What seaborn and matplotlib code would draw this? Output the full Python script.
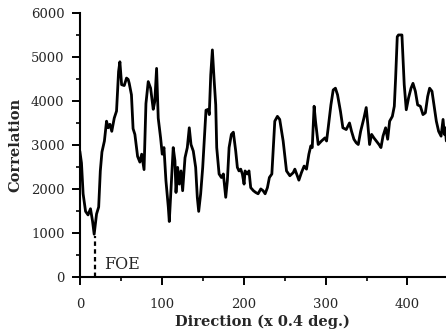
import numpy as np
import pandas as pd
import matplotlib
matplotlib.use('Agg')
import matplotlib.pyplot as plt
from matplotlib.ticker import MultipleLocator
import seaborn as sns

# values
direction = [0, 2, 4, 7, 10, 13, 15.5, 17.5, 20.4, 23, 25, 27, 30, 32.6, 34.6, 36.7, 39, 42, 44.8,
             47.3, 48.9, 51, 54.2, 57, 59, 60.3, 63, 65, 67.2, 70.5, 73.3, 75.5, 78.4, 80.7, 83.5,
             86.4, 89.6, 91.5, 93.7, 95.7, 98.6, 100.6, 102.7, 105.1, 108, 109.2, 111.2, 114, 116.1,
             117.4, 119.4, 121.4, 123.5, 125.5, 128.4, 131.2, 133.6, 135.7, 138.5, 141.4, 143.4,
             145.1, 147.5, 150, 152, 154, 156.8, 158, 159.8, 161.8, 163.8, 165.9, 167.1, 170, 172.8,
             175.2, 178.1, 180.1, 182.2, 185, 187.4, 190.3, 192.3, 194.3, 196.4, 198.4, 200.5, 201.7,
             204.5, 206.5, 208.6, 211.9, 214.7, 217.6, 220.9, 223.7, 226.2, 229, 231.4, 234.4, 238,
             241.2, 244, 248.2, 252.3, 256.4, 260.5, 262.5, 267.4, 270.5, 273.8, 276.7, 279.6, 282,
             283.7, 286, 287.7, 291, 295, 299.2, 301.2, 303.2, 306.5, 309.3, 312, 314.6, 318.2, 321.1,
             325.2, 329.2, 331.7, 334.6, 337.4, 339.9, 342.8, 346.8, 349.6, 351.6, 353.7, 356.2, 359,
             361.9, 365.2, 367.6, 370.1, 373.3, 375.8, 378.2, 381.5, 383.9, 385.5, 387.5, 389, 393.2,
             396, 398.5, 401.3, 404.3, 406.7, 409.6, 412.4, 415.7, 418.9, 421.8, 424.6, 427, 429.9,
             432.8, 435.2, 438, 441, 443.4, 445, 446, 447.4]
correlation = [2870, 2600, 1900, 1500, 1420, 1560, 1280, 980, 1440, 1600, 2420, 2850, 3100, 3550, 3400,
               3480, 3320, 3620, 3780, 4680, 4900, 4380, 4360, 4530, 4500, 4410, 4150, 3380, 3250, 2750,
               2620, 2800, 2450, 3950, 4450, 4300, 3820, 4000, 4750, 3620, 3170, 2800, 2950, 2200, 1600,
               1270, 1970, 2950, 2650, 1930, 2500, 2120, 2420, 1970, 2720, 2950, 3400, 3020, 2870, 2500,
               1820, 1500, 1900, 2500, 3170, 3800, 3820, 3700, 4600, 5170, 4530, 3920, 2950, 2350, 2270,
               2350, 1820, 2200, 2950, 3250, 3300, 2870, 2500, 2420, 2460, 2350, 2120, 2420, 2350, 2420,
               2040, 1970, 1930, 1900, 2010, 1970, 1900, 2040, 2270, 2350, 3550, 3660, 3590, 3100, 2420,
               2310, 2380, 2460, 2210, 2380, 2530, 2460, 2800, 2990, 2950, 3890, 3550, 3020, 3100, 3170,
               3100, 3400, 3920, 4260, 4300, 4150, 3770, 3400, 3360, 3510, 3320, 3140, 3060, 3020, 3320,
               3620, 3860, 3470, 3020, 3250, 3170, 3100, 3020, 2950, 3210, 3400, 3140, 3550, 3660, 3890,
               4530, 5470, 5510, 5510, 4380, 3810, 4080, 4300, 4410, 4230, 3920, 3890, 3700, 3740, 4110,
               4300, 4230, 3850, 3550, 3320, 3210, 3590, 3250, 3400, 3100]

foe_x = 18.3
foe_top = 950

df = pd.DataFrame({'direction': direction, 'correlation': correlation})

sns.set_style('ticks')
plt.rcParams['font.family'] = ['DejaVu Serif']

fig = plt.figure(figsize=(4.46, 3.35), dpi=100)
ax = fig.add_axes([0.179, 0.172, 0.821, 0.788])

sns.lineplot(data=df, x='direction', y='correlation', color='black', linewidth=2.0, ax=ax)

# focus of expansion marker
ax.plot([foe_x, foe_x], [0, foe_top], color='black', linestyle=(0, (2, 1.5)), linewidth=1.6)
ax.text(30, 300, 'FOE', fontsize=11.5, ha='left', va='center')

ax.set_xlim(0, 447)
ax.set_ylim(0, 6000)
ax.set_xticks([0, 100, 200, 300, 400])
ax.set_yticks([0, 1000, 2000, 3000, 4000, 5000, 6000])
ax.xaxis.set_minor_locator(MultipleLocator(50))
ax.yaxis.set_minor_locator(MultipleLocator(500))
ax.tick_params(which='major', length=6, width=1.4, labelsize=9.5, color='black')
ax.tick_params(axis='x', which='major', pad=8.5)
ax.tick_params(axis='y', which='major', pad=5)
ax.tick_params(which='minor', length=3, width=1.2, color='black')

for s in ['left', 'bottom']:
    ax.spines[s].set_linewidth(1.5)
    ax.spines[s].set_color('black')
sns.despine(ax=ax)

ax.set_xlabel('Direction (x 0.4 deg.)', fontsize=10.5, fontweight='bold', labelpad=3)
ax.set_ylabel('Correlation', fontsize=10.5, fontweight='bold', labelpad=6)

fig.savefig('out.png', dpi=100)
